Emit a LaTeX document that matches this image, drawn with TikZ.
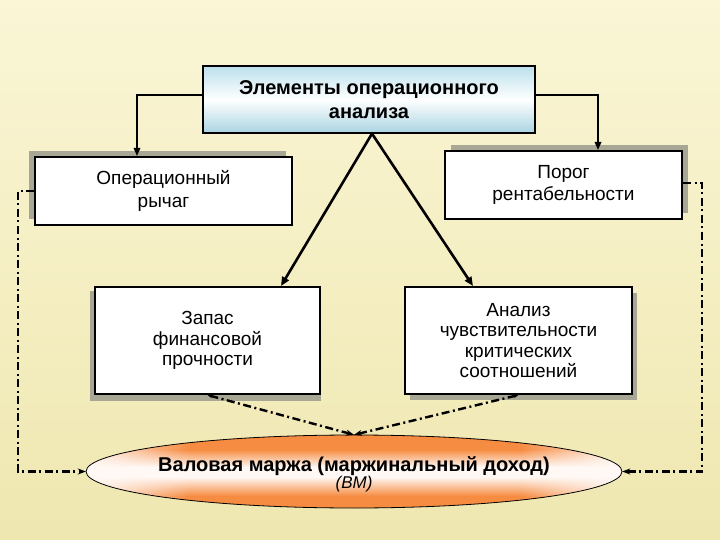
\documentclass[tikz,border=0pt]{standalone}
\usepackage{fontspec}
\setmainfont{Liberation Sans}
\usetikzlibrary{arrows.meta,shapes.geometric,shadows,fadings}
\definecolor{bgtop}{RGB}{250,246,214}
\definecolor{bgbot}{RGB}{239,231,176}
\definecolor{shad}{RGB}{168,166,148}
\definecolor{bluetop}{RGB}{188,224,236}
\definecolor{bluebot}{RGB}{170,212,226}
\definecolor{orng}{RGB}{246,140,66}
\definecolor{orngw}{RGB}{255,248,244}
\begin{document}
\begin{tikzpicture}[x=1pt,y=-1pt,
  box/.style={draw=black, line width=2pt, fill=white, rectangle, inner sep=0pt, align=center,
    font=\fontsize{19}{22.5}\selectfont},
  lowtext/.style={font=\fontsize{19}{20.3}\selectfont},
  toptext/.style={font=\fontsize{20}{24}\selectfont\bfseries},
  solidarrow/.style={line width=1.6pt, -{Triangle[length=8pt,width=6.5pt]}},
  triarrow/.style={line width=2.6pt, -{Triangle[length=9pt,width=7.5pt]}},
  dd/.style={line width=2.4pt, dash pattern=on 8pt off 3.5pt on 2pt off 3.5pt},
  ddtip/.style={-{Stealth[length=8pt,width=6pt]}},
  ddboth/.style={{Stealth[length=5pt,width=4pt]}-{Stealth[length=8pt,width=6pt]}}
]
\shade[top color=bgtop, bottom color=bgbot] (0,0) rectangle (720,540);
\useasboundingbox (0,0) rectangle (720,540);

\node[box, toptext, top color=bluetop, bottom color=bluebot, middle color=white,
  line width=1.3pt, minimum width=332pt, minimum height=67pt] (top) at (369,99.5)
  {Элементы операционного\\анализа};

\node[box, minimum width=257pt, minimum height=68pt,
  general shadow={fill=shad, shadow xshift=-6pt, shadow yshift=6pt}] (opl) at (163.5,191)
  {Операционный\\рычаг};

\node[box, minimum width=237pt, minimum height=68pt,
  general shadow={fill=shad, shadow xshift=6pt, shadow yshift=6pt}] (por) at (563.5,185)
  {Порог\\рентабельности};

\node[box, lowtext, minimum width=225pt, minimum height=107pt,
  general shadow={fill=shad, shadow xshift=-2pt, shadow yshift=-5pt, shadow scale=1.03}] (zap) at (207.5,340.5)
  {Запас\\финансовой\\прочности};

\node[box, lowtext, minimum width=227pt, minimum height=107pt,
  general shadow={fill=shad, shadow xshift=5pt, shadow yshift=-6pt}] (ana) at (518.5,340.5)
  {Анализ\\чувствительности\\критических\\соотношений};

% ellipse
\node[ellipse, minimum width=536pt, minimum height=73pt, inner sep=0pt] (ell) at (354,471.5) {};
\begin{scope}
  \clip (ell.center) ellipse [x radius=268, y radius=36.5];
  \fill[orng] (80,433) rectangle (630,450);
  \shade[top color=orng, bottom color=orngw] (80,449.5) rectangle (630,467);
  \fill[orngw] (80,466.5) rectangle (630,477.5);
  \shade[top color=orngw, bottom color=orng] (80,477) rectangle (630,496);
  \fill[orng] (80,495.5) rectangle (630,510);
  \fill[orngw, path fading=east] (84,430) rectangle (190,512);
  \fill[orngw, path fading=west] (520,430) rectangle (624,512);
\end{scope}
\draw[line width=0.8pt] (ell.center) ellipse [x radius=268, y radius=36.5];
\node[align=center] (elltext) at (354,474.5)
  {\fontsize{20}{23}\selectfont\bfseries Валовая маржа (маржинальный доход)\\
   \fontsize{17}{23}\selectfont\itshape (ВМ)};

% top connectors
\draw[solidarrow] ([yshift=4.5pt]top.west) -| ([xshift=-26.5pt]opl.north);
\draw[solidarrow] ([yshift=4.5pt]top.east) -| ([xshift=34.5pt]por.north);

% triangle
\coordinate (apex) at ([xshift=3pt]top.south);
\draw[triarrow] (apex) -- ([xshift=73.5pt]zap.north);
\draw[triarrow] (apex) -- ([xshift=-45.5pt]ana.north);

% dash-dot connectors
\draw[dd, ddboth] (zap.south) -- (ell.north);
\draw[dd, ddboth] (ana.south) -- (ell.north);
\draw[dd, ddtip] (opl.west) -- ++(-16,0) |- (ell.west);
\draw[dd, ddtip] ([yshift=2pt]por.east) -- ++(19,0) |- (ell.east);
\end{tikzpicture}
\end{document}
